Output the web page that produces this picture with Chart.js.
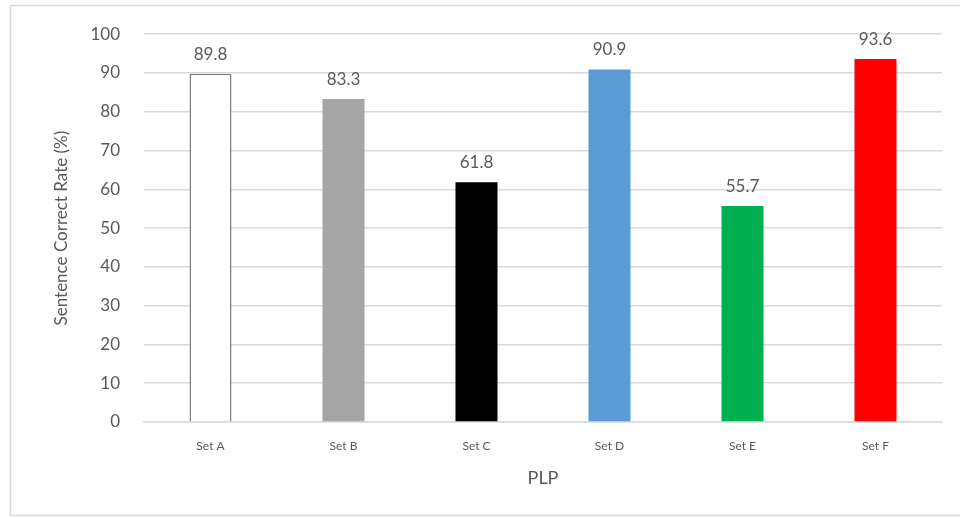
<!DOCTYPE html>
<html>
<head>
<meta charset="utf-8">
<script src="https://cdn.jsdelivr.net/npm/chart.js@4/dist/chart.umd.min.js"></script>
<style>
  html, body { margin: 0; padding: 0; background: #fff; }
  #wrap { width: 960px; height: 518px; position: relative; }
</style>
</head>
<body>
<div id="wrap"><canvas id="chartBar"></canvas></div>
<script>
var categories = ["Set A", "Set B", "Set C", "Set D", "Set E", "Set F"];
var rates = [89.8, 83.3, 61.8, 90.9, 55.7, 93.6];
var barColors = ["#ffffff", "#a5a5a5", "#000000", "#5b9bd5", "#00b050", "#ff0000"];
var borderWidths = [1.5, 0, 0, 0, 0, 0];
var yTitle = "Sentence Correct Rate (%)";
var xTitle = "PLP";

var fontFamily = "Lato, 'Open Sans', sans-serif";
var textColor = "#595959";

// outer frame + value labels over the bars
var frameAndLabels = {
    id: "frameAndLabels",
    beforeDraw: function(chart) {
        var ctx = chart.ctx;
        ctx.save();
        ctx.strokeStyle = "#d9d9d9";
        ctx.lineWidth = 1.5;
        ctx.strokeRect(10.5, 5.5, 960, 510);
        ctx.restore();
    },
    afterDatasetsDraw: function(chart) {
        var ctx = chart.ctx;
        var meta = chart.getDatasetMeta(0);
        ctx.save();
        ctx.font = "17px " + fontFamily;
        ctx.fillStyle = textColor;
        ctx.textAlign = "center";
        ctx.textBaseline = "bottom";
        meta.data.forEach(function(bar, i) {
            ctx.fillText(rates[i].toFixed(1), bar.x, bar.y - 11);
        });
        ctx.restore();
    }
};

var ctx = document.getElementById("chartBar");
var myBarChart = new Chart(ctx, {
    type: "bar",
    data: {
        labels: categories,
        datasets: [{
            data: rates,
            backgroundColor: barColors,
            borderColor: "#7f7f7f",
            borderWidth: borderWidths,
            barPercentage: 0.316,
            categoryPercentage: 1.0,
        }],
    },
    options: {
        responsive: true,
        maintainAspectRatio: false,
        animation: false,
        devicePixelRatio: 1,
        layout: {
            padding: { left: 10, right: 18, top: 31, bottom: 0 },
        },
        plugins: {
            legend: { display: false },
            tooltip: { enabled: false },
        },
        scales: {
            x: {
                grid: { display: false, drawTicks: false },
                border: { display: true, color: "#d9d9d9", width: 1.5 },
                ticks: {
                    color: textColor,
                    font: { family: fontFamily, size: 12 },
                    padding: 17,
                },
                title: {
                    display: true,
                    text: xTitle,
                    color: textColor,
                    font: { family: fontFamily, size: 18 },
                    padding: { top: 0, bottom: 29 },
                },
                afterFit: function(scale) {
                    scale.height = 96;
                },
            },
            y: {
                min: 0,
                max: 100,
                ticks: {
                    stepSize: 10,
                    color: textColor,
                    font: { family: fontFamily, size: 17 },
                    padding: 24,
                },
                grid: { color: "#d9d9d9", lineWidth: 1.5, drawTicks: false },
                border: { display: false },
                title: {
                    display: true,
                    text: yTitle,
                    color: textColor,
                    font: { family: fontFamily, size: 17 },
                    padding: { top: 41, bottom: 0 },
                },
                afterFit: function(scale) {
                    scale.width = 134;
                },
            },
        },
    },
    plugins: [frameAndLabels],
});
</script>
</body>
</html>
